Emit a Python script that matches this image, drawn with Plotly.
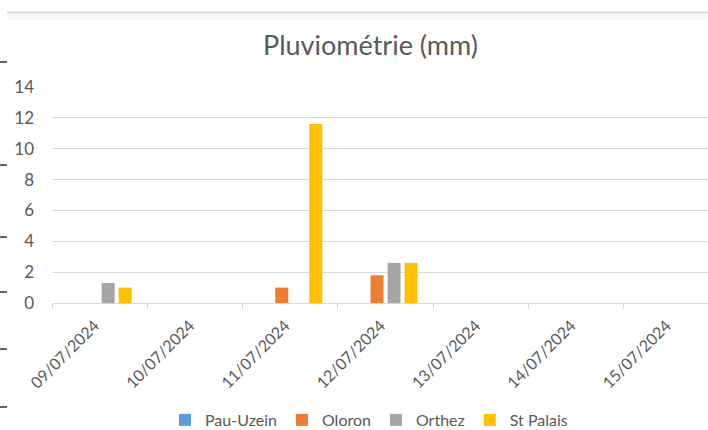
import plotly.graph_objects as go

dates = ["09/07/2024", "10/07/2024", "11/07/2024", "12/07/2024",
         "13/07/2024", "14/07/2024", "15/07/2024"]
pau_uzein = [0, 0, 0, 0, 0, 0, 0]
oloron = [0, 0, 1.0, 1.8, 0, 0, 0]
orthez = [1.3, 0, 0, 2.6, 0, 0, 0]
st_palais = [1.0, 0, 11.6, 2.6, 0, 0, 0]

series = [
    ("Pau-Uzein", pau_uzein, "#5B9BD5"),
    ("Oloron", oloron, "#ED7D31"),
    ("Orthez", orthez, "#A5A5A5"),
    ("St Palais", st_palais, "#FFC000"),
]

W, H = 708, 430
L, R, T, B = 52, 0, 87, 127
PW, PH = W - L - R, H - T - B

def px_x(px):
    return (px - L) / PW

def px_y(py):
    return (H - B - py) / PH

FONT = "Lato"
TXT = "#595959"
GRID = "#D9D9D9"

fig = go.Figure()
for name, vals, col in series:
    fig.add_trace(go.Bar(x=dates, y=vals, name=name, marker=dict(color=col, line=dict(width=0))))

shapes = []
# faint top border from the surrounding page
shapes.append(dict(type="rect", xref="paper", yref="paper",
                   x0=px_x(7), x1=px_x(W), y0=px_y(20), y1=px_y(13),
                   fillcolor="#F6F6F6", line=dict(width=0), layer="below"))
shapes.append(dict(type="line", xref="paper", yref="paper",
                   x0=px_x(7), x1=px_x(W), y0=px_y(12.5), y1=px_y(12.5),
                   line=dict(color="#D4D4D4", width=1.5)))
# black marks on the left edge
for yy in [62, 165, 237, 292, 349, 407]:
    shapes.append(dict(type="line", xref="paper", yref="paper",
                       x0=px_x(0), x1=px_x(7), y0=px_y(yy), y1=px_y(yy),
                       line=dict(color="#111111", width=1.3)))

fig.update_layout(
    width=W, height=H,
    margin=dict(l=L, r=R, t=T, b=B, pad=0, autoexpand=False),
    paper_bgcolor="white", plot_bgcolor="white",
    font=dict(family=FONT, color=TXT, size=15),
    title=dict(text="Pluviométrie (mm)", xref="container", yref="container",
               x=370.5 / W, y=1 - 46 / H, xanchor="center", yanchor="middle",
               font=dict(family=FONT, size=27, color=TXT)),
    barmode="group", bargap=0.286, bargroupgap=0.235,
    showlegend=True,
    legend=dict(orientation="h", xref="paper", yref="paper",
                x=px_x(369), y=px_y(420), xanchor="center", yanchor="middle",
                font=dict(family=FONT, size=16, color=TXT),
                itemwidth=30, tracegroupgap=0, bgcolor="rgba(0,0,0,0)"),
    shapes=shapes,
)
fig.update_xaxes(type="category", range=[-0.5, -0.5 + PW / 95.3], automargin=False,
                 showgrid=False, showline=True, linecolor=GRID, linewidth=1,
                 ticks="outside", tickson="boundaries", ticklen=5, tickcolor=GRID,
                 tickangle=-45, ticklabelstandoff=6, ticklabelshift=-5,
                 tickfont=dict(family=FONT, size=16, color=TXT))
fig.update_yaxes(range=[0, 14], dtick=2, showgrid=True, gridcolor=GRID, gridwidth=1,
                 automargin=False,
                 zeroline=False, showline=False, ticks="", ticklabelstandoff=17,
                 tickfont=dict(family=FONT, size=17, color=TXT))

fig.write_html(
    "out.html",
    config={"displayModeBar": False},
    post_script="document.body.style.margin='0';document.body.style.overflow='hidden';",
)
